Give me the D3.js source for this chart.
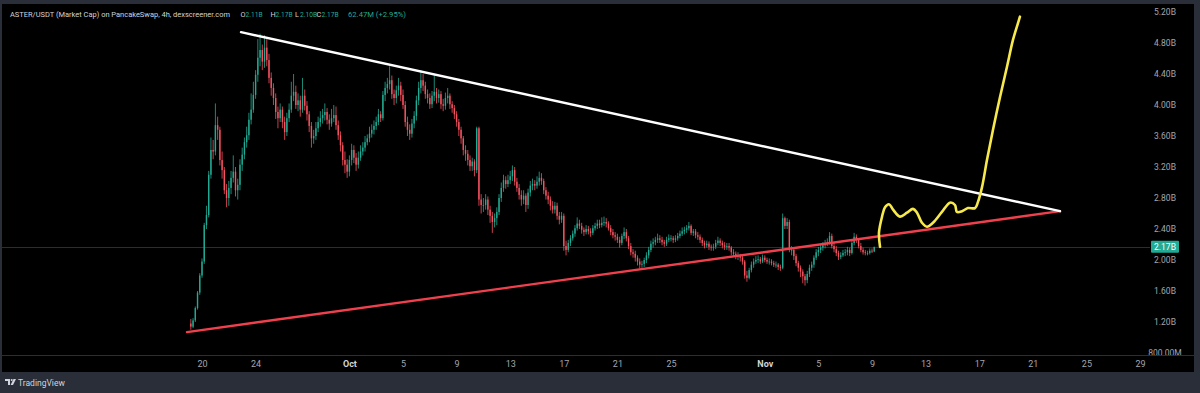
<!DOCTYPE html>
<html><head><meta charset="utf-8">
<script src="https://cdn.jsdelivr.net/npm/d3@7/dist/d3.min.js"></script>
<style>
html,body{margin:0;padding:0;background:#2a2e39;overflow:hidden}
svg{display:block}
</style></head><body>
<svg id="chart" width="1200" height="393"></svg>
<script>
// ---------------- DATA ----------------
const title = "ASTER/USDT (Market Cap) on PancakeSwap, 4h, dexscreener.com";
const ohlcKeys = ["O", "H", "L", "C"];
const ohlcValues = ["2.11B", "2.17B", "2.10B", "2.17B"];
const changeText = "62.47M (+2.95%)";

const priceTicks = [0.8, 1.2, 1.6, 2.0, 2.4, 2.8, 3.2, 3.6, 4.0, 4.4, 4.8, 5.2];
const priceTickLabels = ["800.00M", "1.20B", "1.60B", "2.00B", "2.40B", "2.80B", "3.20B", "3.60B", "4.00B", "4.40B", "4.80B", "5.20B"];

const dateTicks = ["2025-09-20", "2025-09-24", "2025-10-01", "2025-10-05", "2025-10-09", "2025-10-13", "2025-10-17", "2025-10-21", "2025-10-25",
  "2025-11-01", "2025-11-05", "2025-11-09", "2025-11-13", "2025-11-17", "2025-11-21", "2025-11-25", "2025-11-29"];
const dateTickLabels = ["20", "24", "Oct", "5", "9", "13", "17", "21", "25", "Nov", "5", "9", "13", "17", "21", "25", "29"];

// 4h candles, market cap in billions USD, first candle: 2025-09-19 04:00
const firstCandle = "2025-09-19T04:00";
const firstOpen = 1.18;
const closes = [
  1.14,1.22,1.38,1.58,1.80,
  1.98,2.45,2.58,3.10,3.42,3.40,
  3.74,3.68,3.29,3.16,2.90,2.80,
  2.93,3.06,3.14,2.90,2.97,3.23,
  3.36,3.52,3.61,3.81,3.94,4.13,
  4.39,4.61,4.71,4.56,4.74,4.58,
  4.35,4.22,4.09,3.91,3.83,3.94,
  3.78,3.65,3.83,3.94,4.12,4.17,
  4.00,4.06,3.94,4.12,3.99,3.88,
  3.73,3.57,3.60,3.70,3.78,3.83,
  3.87,3.91,3.81,3.76,3.83,3.87,
  3.74,3.61,3.48,3.29,3.23,3.14,
  3.29,3.42,3.32,3.23,3.32,3.40,
  3.45,3.52,3.57,3.63,3.68,3.73,
  3.78,3.88,3.83,4.13,4.22,4.27,
  4.32,4.14,4.09,4.19,4.25,4.13,
  4.00,3.78,3.68,3.63,3.76,3.86,
  4.06,4.22,4.32,4.25,4.14,4.09,
  4.01,4.12,4.17,4.09,4.14,4.01,
  3.99,4.09,4.12,4.01,3.96,3.88,
  3.78,3.68,3.57,3.42,3.37,3.29,
  3.21,3.27,3.16,3.70,2.78,2.71,
  2.71,2.78,2.65,2.57,2.49,2.54,
  2.62,2.80,2.93,3.03,2.98,3.03,
  3.08,3.16,3.01,2.93,2.84,2.78,
  2.83,2.71,2.87,2.96,2.98,2.96,
  3.01,3.06,3.02,2.90,2.83,2.78,
  2.70,2.65,2.70,2.57,2.52,2.57,
  2.18,2.13,2.22,2.28,2.34,2.41,
  2.47,2.44,2.39,2.36,2.40,2.37,
  2.35,2.41,2.44,2.47,2.45,2.48,
  2.49,2.47,2.41,2.36,2.32,2.30,
  2.26,2.22,2.31,2.36,2.28,2.18,
  2.10,2.08,2.03,1.98,1.94,1.95,
  2.00,2.06,2.13,2.21,2.23,2.26,
  2.28,2.26,2.23,2.21,2.26,2.28,
  2.28,2.26,2.28,2.31,2.34,2.37,
  2.39,2.41,2.44,2.35,2.37,2.32,
  2.30,2.26,2.22,2.19,2.21,2.17,
  2.16,2.17,2.22,2.25,2.22,2.19,
  2.17,2.18,2.16,2.10,2.08,2.05,
  2.05,2.03,1.98,1.80,1.77,1.87,
  1.94,1.98,2.00,2.01,1.98,2.03,
  2.00,1.98,1.98,1.96,1.94,1.94,
  1.91,1.90,2.54,2.44,2.49,2.13,
  2.13,2.05,1.96,1.90,1.85,1.79,
  1.74,1.82,1.90,1.94,2.03,2.10,
  2.13,2.16,2.19,2.22,2.23,2.31,
  2.18,2.14,2.09,2.04,2.06,2.09,
  2.10,2.13,2.09,2.22,2.30,2.26,
  2.18,2.13,2.10,2.09,2.09,2.12,
  2.11,2.17
];
const highs = [
  1.24,1.25,1.40,1.60,1.83,
  2.02,2.48,2.70,3.15,3.58,3.55,
  4.02,3.85,3.72,3.40,3.20,2.98,
  3.02,3.15,3.35,3.20,3.05,3.30,
  3.45,3.58,3.72,3.90,4.15,4.30,
  4.45,4.85,4.92,4.78,4.90,4.85,
  4.66,4.42,4.28,4.15,3.98,4.02,
  3.98,3.85,3.90,4.02,4.30,4.40,
  4.25,4.15,4.12,4.35,4.20,4.05,
  3.92,3.78,3.68,3.78,3.85,3.92,
  3.95,4.02,3.96,3.88,3.95,4.00,
  3.98,3.80,3.66,3.52,3.40,3.30,
  3.35,3.50,3.48,3.38,3.40,3.48,
  3.52,3.60,3.62,3.72,3.75,3.80,
  3.85,3.95,3.92,4.18,4.30,4.35,
  4.50,4.38,4.20,4.25,4.35,4.30,
  4.20,4.05,3.85,3.75,3.82,3.92,
  4.12,4.30,4.45,4.40,4.30,4.20,
  4.15,4.18,4.40,4.22,4.20,4.18,
  4.08,4.16,4.22,4.15,4.05,4.00,
  3.92,3.82,3.72,3.60,3.48,3.42,
  3.35,3.32,3.30,3.72,3.72,2.85,
  2.80,2.85,2.82,2.70,2.62,2.60,
  2.68,2.85,3.00,3.10,3.08,3.10,
  3.15,3.22,3.20,3.06,2.98,2.90,
  2.90,2.86,2.92,3.02,3.05,3.03,
  3.08,3.14,3.12,3.05,2.94,2.88,
  2.82,2.76,2.75,2.74,2.62,2.62,
  2.60,2.25,2.26,2.32,2.38,2.45,
  2.55,2.52,2.48,2.42,2.45,2.44,
  2.41,2.45,2.48,2.52,2.52,2.55,
  2.56,2.54,2.50,2.45,2.40,2.36,
  2.34,2.30,2.34,2.42,2.40,2.31,
  2.22,2.14,2.12,2.06,2.02,1.99,
  2.03,2.10,2.17,2.25,2.28,2.30,
  2.34,2.32,2.30,2.26,2.30,2.33,
  2.32,2.31,2.32,2.35,2.38,2.42,
  2.43,2.45,2.49,2.46,2.40,2.40,
  2.36,2.33,2.29,2.25,2.25,2.24,
  2.20,2.21,2.26,2.30,2.28,2.25,
  2.23,2.22,2.22,2.18,2.14,2.11,
  2.10,2.08,2.06,2.00,1.86,1.90,
  1.98,2.02,2.05,2.06,2.04,2.07,
  2.06,2.03,2.02,2.01,1.99,1.98,
  1.96,1.94,2.60,2.56,2.54,2.52,
  2.18,2.16,2.08,1.99,1.93,1.88,
  1.82,1.86,1.94,1.98,2.06,2.14,
  2.17,2.20,2.23,2.26,2.28,2.36,
  2.34,2.22,2.18,2.12,2.10,2.13,
  2.14,2.17,2.16,2.25,2.35,2.33,
  2.28,2.22,2.16,2.13,2.12,2.15,
  2.15,2.17
];
const lows = [
  1.10,1.12,1.20,1.36,1.55,
  1.77,1.95,2.40,2.55,3.05,3.30,
  3.35,3.55,3.22,3.05,2.85,2.68,
  2.70,2.85,3.00,2.82,2.78,2.90,
  3.15,3.30,3.45,3.55,3.75,3.90,
  4.08,4.30,4.50,4.45,4.48,4.50,
  4.28,4.12,4.00,3.82,3.70,3.78,
  3.70,3.55,3.60,3.78,3.90,4.05,
  3.95,3.92,3.85,3.90,3.93,3.80,
  3.65,3.45,3.50,3.55,3.65,3.72,
  3.76,3.80,3.75,3.68,3.72,3.78,
  3.68,3.55,3.40,3.22,3.12,3.06,
  3.08,3.22,3.25,3.15,3.18,3.28,
  3.35,3.40,3.48,3.52,3.58,3.62,
  3.68,3.74,3.78,3.80,4.05,4.15,
  4.20,4.08,4.00,4.02,4.12,4.05,
  3.95,3.72,3.60,3.55,3.58,3.70,
  3.80,4.00,4.15,4.18,4.08,4.02,
  3.95,3.96,4.05,4.02,4.03,3.95,
  3.92,3.94,4.02,3.95,3.90,3.82,
  3.72,3.60,3.50,3.35,3.28,3.22,
  3.15,3.15,3.08,3.12,2.70,2.60,
  2.62,2.65,2.58,2.48,2.35,2.42,
  2.45,2.58,2.75,2.88,2.92,2.94,
  2.98,3.02,2.96,2.88,2.78,2.70,
  2.72,2.62,2.66,2.82,2.90,2.90,
  2.92,2.96,2.97,2.85,2.78,2.72,
  2.64,2.60,2.60,2.52,2.46,2.48,
  2.12,2.06,2.10,2.18,2.25,2.30,
  2.38,2.40,2.34,2.31,2.33,2.33,
  2.30,2.32,2.38,2.40,2.41,2.42,
  2.44,2.42,2.38,2.32,2.28,2.25,
  2.22,2.16,2.19,2.27,2.24,2.14,
  2.06,2.03,1.98,1.93,1.89,1.90,
  1.91,1.96,2.02,2.10,2.16,2.19,
  2.22,2.22,2.19,2.17,2.18,2.23,
  2.24,2.22,2.23,2.25,2.28,2.31,
  2.33,2.35,2.38,2.32,2.31,2.28,
  2.26,2.22,2.18,2.15,2.16,2.13,
  2.12,2.12,2.14,2.19,2.18,2.15,
  2.13,2.13,2.12,2.06,2.04,2.01,
  2.00,1.98,1.94,1.76,1.72,1.75,
  1.84,1.90,1.95,1.96,1.95,1.96,
  1.97,1.95,1.94,1.93,1.91,1.90,
  1.87,1.86,1.88,2.40,2.40,2.10,
  2.06,2.00,1.92,1.85,1.78,1.70,
  1.67,1.70,1.78,1.86,1.90,2.00,
  2.05,2.09,2.12,2.15,2.18,2.20,
  2.15,2.10,2.05,2.00,2.01,2.04,
  2.05,2.06,2.05,2.07,2.19,2.22,
  2.15,2.10,2.07,2.06,2.06,2.07,
  2.09,2.10
];
const lastPrice = 2.17;
const lastPriceLabel = "2.17B";

// drawn annotations: day offsets from 2025-09-20 00:00, values in billions
const dayZero = "2025-09-20T00:00";
const resistanceDays = [2.91, 64.03];
const resistanceValues = [4.94, 2.63];
const supportDays = [-1.12, 64.03];
const supportValues = [1.07, 2.63];
const forecastDays = [50.60, 50.52, 50.75, 50.97, 51.27, 51.57, 52.09, 52.61, 53.06, 53.36, 53.73, 54.10, 54.55, 55.22, 55.82, 56.19, 56.34, 56.72, 57.16, 57.69, 57.91, 58.21, 58.58, 59.03, 59.55, 60.07, 60.52, 60.90, 61.04];
const forecastValues = [2.17, 2.35, 2.56, 2.68, 2.72, 2.65, 2.56, 2.61, 2.66, 2.61, 2.48, 2.43, 2.48, 2.62, 2.74, 2.71, 2.62, 2.63, 2.67, 2.67, 2.75, 2.94, 3.29, 3.68, 4.10, 4.49, 4.84, 5.06, 5.14];

// ---------------- DRAW ----------------
const W = 1200, H = 393;
const svg = d3.select("#chart");
const parse = s => new Date(s);
const dayMs = 86400000, stepMs = 4 * 3600000;
const t0 = parse(dayZero).getTime();

const x = d3.scaleTime().domain([parse("2025-09-20T00:00"), parse("2025-11-29T00:00")]).range([202, 1140]);
const y = d3.scaleLinear().domain([0.8, 5.2]).range([353, 12]);

// background frame + panel
svg.append("rect").attr("width", W).attr("height", H).attr("fill", "#2a2e39");
svg.append("rect").attr("x", 2).attr("y", 4).attr("width", 1192).attr("height", 368).attr("fill", "#000000");

const defs = svg.append("defs");
defs.append("clipPath").attr("id", "plotClip").append("rect").attr("x", 2).attr("y", 4).attr("width", 1192).attr("height", 351);

// x axis separator
svg.append("line").attr("x1", 2).attr("x2", 1194).attr("y1", 355.5).attr("y2", 355.5).attr("stroke", "#2a2e39").attr("stroke-width", 1);

const plot = svg.append("g").attr("clip-path", "url(#plotClip)");

// current price line
plot.append("line")
  .attr("x1", 2).attr("x2", 1150)
  .attr("y1", Math.round(y(lastPrice)) + 0.5).attr("y2", Math.round(y(lastPrice)) + 0.5)
  .attr("stroke", "#22ab94").attr("stroke-opacity", 0.35).attr("stroke-width", 1);

// candles
const start = parse(firstCandle).getTime();
const candles = closes.map((c, i) => ({
  t: new Date(start + i * stepMs),
  o: i === 0 ? firstOpen : closes[i - 1],
  h: highs[i], l: lows[i], c: c
}));
const step = x(new Date(start + stepMs)) - x(new Date(start));
const bw = Math.max(1, step * 0.62);
const up = "#22ab94", down = "#f7525f";
const cg = plot.append("g");
cg.selectAll("line.wick").data(candles).join("line")
  .attr("class", "wick")
  .attr("x1", d => x(d.t)).attr("x2", d => x(d.t))
  .attr("y1", d => y(d.h)).attr("y2", d => y(d.l))
  .attr("stroke", d => d.c >= d.o ? up : down).attr("stroke-width", 0.8);
cg.selectAll("rect.body").data(candles).join("rect")
  .attr("class", "body")
  .attr("x", d => x(d.t) - bw / 2).attr("width", bw)
  .attr("y", d => y(Math.max(d.o, d.c)))
  .attr("height", d => Math.max(0.8, Math.abs(y(d.o) - y(d.c))))
  .attr("fill", d => d.c >= d.o ? up : down);

const dayDate = d => new Date(t0 + d * dayMs);
const lineGen = d3.line().x(d => x(dayDate(d[0]))).y(d => y(d[1]));

// support (red) and resistance (white)
plot.append("path").datum(d3.zip(supportDays, supportValues)).attr("d", lineGen)
  .attr("fill", "none").attr("stroke", "#f0404e").attr("stroke-width", 2.4).attr("stroke-linecap", "round");
plot.append("path").datum(d3.zip(resistanceDays, resistanceValues)).attr("d", lineGen)
  .attr("fill", "none").attr("stroke", "#ffffff").attr("stroke-width", 2.4).attr("stroke-linecap", "round");

// hand drawn forecast (yellow)
plot.append("path").datum(d3.zip(forecastDays, forecastValues))
  .attr("d", d3.line().x(d => x(dayDate(d[0]))).y(d => y(d[1])).curve(d3.curveCatmullRom.alpha(0.5)))
  .attr("fill", "none").attr("stroke", "#f7e94d").attr("stroke-width", 2.6)
  .attr("stroke-linecap", "round").attr("stroke-linejoin", "round");

// price axis
const yAxis = svg.append("g").attr("clip-path", "url(#plotClip)");
yAxis.selectAll("text").data(priceTicks).join("text")
  .attr("x", 1165).attr("y", d => y(d))
  .attr("dy", "0.35em").attr("text-anchor", "middle")
  .attr("font-family", "Roboto, 'Liberation Sans', sans-serif").attr("font-size", 8.5)
  .attr("fill", "#a3a6af")
  .text((d, i) => priceTickLabels[i]);

// last price tag
const tagY = y(lastPrice);
svg.append("rect").attr("x", 1151).attr("y", tagY - 6).attr("width", 28).attr("height", 12)
  .attr("rx", 1).attr("fill", "#22ab94");
svg.append("text").attr("x", 1165).attr("y", tagY).attr("dy", "0.35em").attr("text-anchor", "middle")
  .attr("font-family", "Roboto, 'Liberation Sans', sans-serif").attr("font-size", 8.5)
  .attr("fill", "#ffffff").text(lastPriceLabel);

// time axis
const xAxis = d3.axisBottom(x)
  .tickValues(dateTicks.map(s => parse(s + "T00:00")))
  .tickFormat((d, i) => dateTickLabels[i])
  .tickSize(0).tickPadding(0);
const gx = svg.append("g").attr("transform", "translate(0,360)").call(xAxis);
gx.select(".domain").remove();
gx.selectAll("text")
  .attr("dy", "0.35em").attr("y", 4)
  .attr("font-family", "Roboto, 'Liberation Sans', sans-serif").attr("font-size", 9)
  .attr("fill", (d, i) => /[A-Za-z]/.test(dateTickLabels[i]) ? "#d1d4dc" : "#a3a6af")
  .attr("font-weight", (d, i) => /[A-Za-z]/.test(dateTickLabels[i]) ? 700 : 400);

// header legend
const hdrFont = "Roboto, 'Liberation Sans', sans-serif";
const hdr = svg.append("g").attr("font-family", hdrFont).attr("font-size", 7.3);
hdr.append("text").attr("x", 10).attr("y", 17).attr("fill", "#d1d4dc")
  .attr("textLength", 220).attr("lengthAdjust", "spacingAndGlyphs").text(title);
const keyX = [240.5, 270.5, 295, 316.5];
ohlcKeys.forEach((k, i) => {
  hdr.append("text").attr("x", keyX[i]).attr("y", 17).attr("fill", "#d1d4dc").text(k);
  hdr.append("text").attr("x", keyX[i] + 5).attr("y", 17).attr("fill", "#22ab94")
    .attr("textLength", 17).attr("lengthAdjust", "spacingAndGlyphs").text(ohlcValues[i]);
});
hdr.append("text").attr("x", 348).attr("y", 17).attr("fill", "#22ab94")
  .attr("textLength", 58).attr("lengthAdjust", "spacingAndGlyphs").text(changeText);

// TradingView logo
const logo = svg.append("g").attr("transform", "translate(5,379)");
logo.append("path").attr("d", "M0,0 H5 V6 H3 V2 H0 Z").attr("fill", "#d1d4dc");
logo.append("circle").attr("cx", 6.7).attr("cy", 1).attr("r", 1).attr("fill", "#d1d4dc");
logo.append("path").attr("d", "M8.5,0 H11 L8,6 H5.6 Z").attr("fill", "#d1d4dc");
svg.append("text").attr("x", 18).attr("y", 385.5).attr("font-family", hdrFont).attr("font-size", 8.5)
  .attr("fill", "#d1d4dc").text("TradingView");
</script>
</body></html>
